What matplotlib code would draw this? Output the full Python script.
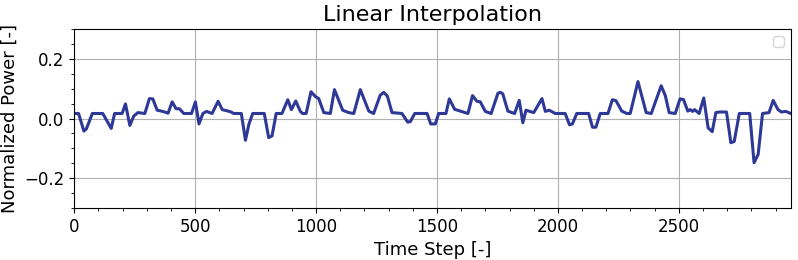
import matplotlib.pyplot as plt
import numpy as np

# vertices of the interpolated power curve (time step, normalized power)
time_step = [0, 18, 40, 50, 75, 118, 153, 167, 198, 212, 230, 246, 263, 292,
             311, 325, 343, 366, 388, 405, 421, 435, 453, 485, 501, 516, 532,
             547, 570, 595, 612, 646, 660, 691, 708, 722, 738, 786, 804, 818,
             835, 859, 883, 898, 916, 935, 944, 959, 979, 997, 1011, 1032,
             1059, 1076, 1110, 1135, 1156, 1183, 1218, 1238, 1265, 1280, 1295,
             1314, 1355, 1379, 1390, 1408, 1459, 1474, 1493, 1507, 1537, 1551,
             1573, 1600, 1628, 1647, 1665, 1679, 1700, 1724, 1752, 1762, 1772,
             1793, 1821, 1840, 1855, 1868, 1900, 1934, 1948, 1964, 1989, 2030,
             2048, 2060, 2078, 2127, 2143, 2157, 2175, 2207, 2225, 2240, 2264,
             2285, 2299, 2331, 2365, 2386, 2427, 2444, 2460, 2485, 2505, 2519,
             2537, 2547, 2557, 2565, 2584, 2603, 2621, 2638, 2653, 2669, 2697,
             2715, 2729, 2750, 2793, 2811, 2828, 2846, 2873, 2890, 2910, 2924,
             2942, 2963]
power = [0.017, 0.017, -0.042, -0.035, 0.017, 0.017, -0.033, 0.017, 0.017,
         0.049, -0.023, 0.008, 0.02, 0.017, 0.067, 0.066, 0.028, 0.024, 0.018,
         0.056, 0.033, 0.033, 0.017, 0.017, 0.056, -0.018, 0.017, 0.024, 0.017,
         0.058, 0.03, 0.023, 0.017, 0.017, -0.073, -0.02, 0.017, 0.017, -0.064,
         -0.058, 0.017, 0.017, 0.063, 0.03, 0.059, 0.024, 0.017, 0.017, 0.09,
         0.074, 0.067, 0.02, 0.017, 0.097, 0.028, 0.02, 0.017, 0.097, 0.025,
         0.017, 0.078, 0.088, 0.075, 0.02, 0.017, -0.012, -0.01, 0.017, 0.017,
         -0.018, -0.018, 0.017, 0.017, 0.066, 0.031, 0.024, 0.017, 0.077,
         0.058, 0.056, 0.024, 0.017, 0.085, 0.088, 0.083, 0.025, 0.017, 0.061,
         -0.014, 0.028, 0.02, 0.067, 0.024, 0.028, 0.017, 0.017, -0.021,
         -0.018, 0.017, 0.017, -0.029, -0.029, 0.017, 0.017, 0.063, 0.06,
         0.025, 0.017, 0.017, 0.124, 0.02, 0.017, 0.11, 0.077, 0.02, 0.017,
         0.066, 0.064, 0.025, 0.03, 0.024, 0.03, 0.017, 0.069, -0.031, -0.044,
         0.02, 0.022, 0.022, -0.081, -0.077, 0.017, 0.017, -0.148, -0.12,
         0.017, 0.02, 0.061, 0.03, 0.022, 0.024, 0.017]

fig, ax = plt.subplots(figsize=(7.98, 2.6), dpi=100)
fig.subplots_adjust(left=0.093, right=0.991, top=0.888, bottom=0.2)

ax.plot(np.array(time_step), np.array(power), color="#2e3896", lw=2.2)
ax.set_title("Linear Interpolation", fontsize=16)
ax.set_xlabel("Time Step [-]", fontsize=13)
ax.set_ylabel("Normalized Power [-]", fontsize=13)
ax.set_xlim(0, 2963)
ax.set_ylim(-0.3, 0.3)
ax.set_xticks([0, 500, 1000, 1500, 2000, 2500])
ax.set_yticks([-0.2, 0.0, 0.2])
ax.tick_params(labelsize=12)
ax.minorticks_on()
ax.grid(True, which="major")
ax.legend()  # no labelled lines -> empty box

fig.savefig("out.png")
